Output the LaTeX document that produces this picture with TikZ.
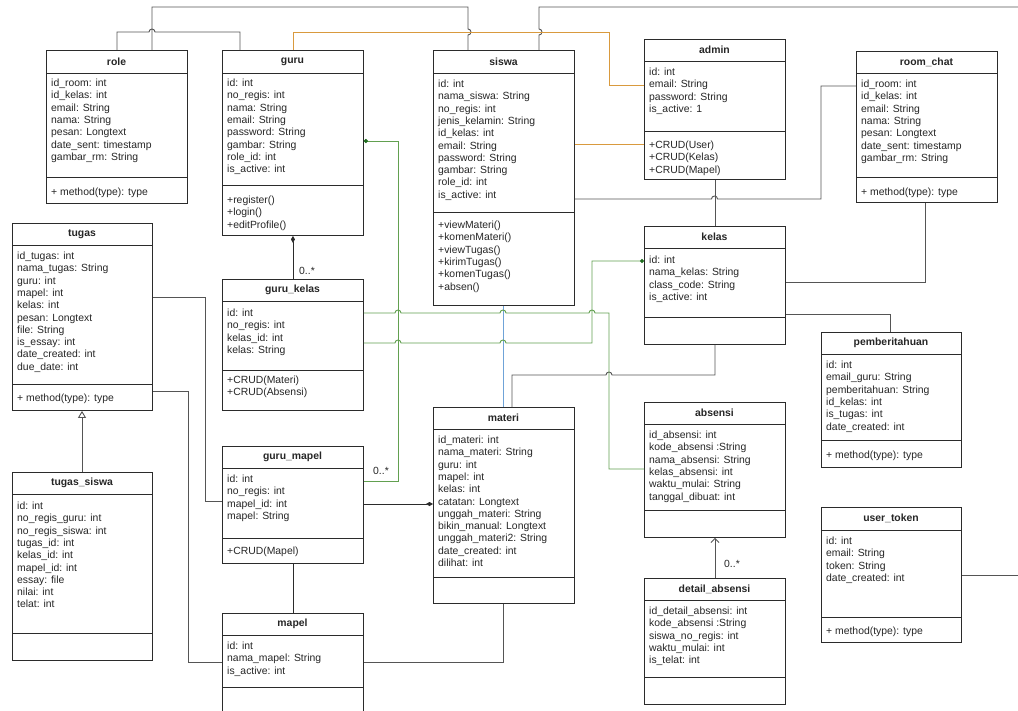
\documentclass[tikz,border=0pt]{standalone}
\usepackage{fontspec}
\setmainfont{Liberation Sans}
\usetikzlibrary{arrows.meta}
\definecolor{boxc}{HTML}{2B2B2B}
\definecolor{lnc}{HTML}{555555}
\definecolor{orng}{HTML}{D99A3E}
\definecolor{grn}{HTML}{62A050}
\definecolor{grnd}{HTML}{1E6B1E}
\definecolor{blu}{HTML}{6FA3D8}
\definecolor{txt}{HTML}{262626}
\tikzset{
  clsbox/.style={draw=boxc, line width=0.9pt, fill=white, inner sep=0pt, anchor=north west},
  sepline/.style={draw=boxc, line width=0.9pt},
  ttl/.style={font=\fontsize{10.4}{12}\selectfont\bfseries, inner sep=0pt, text=txt},
  attr/.style={font=\fontsize{10.4}{12}\selectfont, anchor=west, inner sep=0pt, text height=7pt, text depth=2pt, text=txt},
  mult/.style={font=\fontsize{10.4}{12}\selectfont, inner sep=0pt, text=txt},
  conn/.style={draw=lnc, line width=0.9pt},
  dk/.style={draw=boxc, line width=0.9pt},
  orl/.style={draw=orng, line width=0.9pt},
  grl/.style={draw=grn, line width=0.9pt},
  bll/.style={draw=blu, line width=0.9pt},
}
\newcommand\umlcls[8]{%
  \node[clsbox, minimum width={(#4-#2)*1pt}, minimum height={(#7-#3)*1pt}] (#1) at (#2,#3) {};
  \draw[sepline] (#2,#5) -- (#4,#5) (#2,#6) -- (#4,#6);
  \node[ttl] (#1-t) at ({(#2+#4)/2},{(#3+#5)/2}) {#8};
}
\newcommand\umlrows[4]{%
  \foreach \t [count=\i from 0] in {#4} {\node[attr] (#1-\i) at (#2,{#3+\i*12.3}) {\t};}%
}
\begin{document}
\begin{tikzpicture}[x=1pt,y=-1pt]
\useasboundingbox (0,0) rectangle (1018,710);
\fill[white] (0,0) rectangle (1018,710);
\begin{scope}
\clip (0,0) rectangle (1018,710);
% ---------- classes ----------
\umlcls{role}{46}{50}{187}{73}{177}{203}{role}
\umlrows{rolea}{51}{84}{id\_room: int, id\_kelas: int, email: String, nama: String, pesan: Longtext, date\_sent: timestamp, gambar\_rm: String}
\umlrows{rolem}{51}{193}{+ method(type): type}

\umlcls{guru}{222}{50}{363}{73}{185}{235}{guru}
\umlrows{gurua}{227}{84}{id: int, no\_regis: int, nama: String, email: String, password: String, gambar: String, role\_id: int, is\_active: int}
\umlrows{gurum}{227}{201}{+register(), +login(), +editProfile()}

\umlcls{siswa}{433}{50}{574}{73}{212}{305}{siswa}
\umlrows{siswaa}{438}{85}{id: int, nama\_siswa: String, no\_regis: int, jenis\_kelamin: String, id\_kelas: int, email: String, password: String, gambar: String, role\_id: int, is\_active: int}
\umlrows{siswam}{438}{226}{+viewMateri(), +komenMateri(), +viewTugas(), +kirimTugas(), +komenTugas(), +absen()}

\umlcls{admin}{644}{39}{785}{61}{131}{179}{admin}
\umlrows{admina}{649}{73}{id: int, email: String, password: String, is\_active: 1}
\umlrows{adminm}{649}{146}{+CRUD(User), +CRUD(Kelas), +CRUD(Mapel)}

\umlcls{roomchat}{856}{51}{997}{73}{177}{202}{room\_chat}
\umlrows{roomchata}{861}{85}{id\_room: int, id\_kelas: int, email: String, nama: String, pesan: Longtext, date\_sent: timestamp, gambar\_rm: String}
\umlrows{roomchatm}{861}{193}{+ method(type): type}

\umlcls{kelas}{644}{226}{785}{248}{317}{344}{kelas}
\umlrows{kelasa}{649}{261}{id: int, nama\_kelas: String, class\_code: String, is\_active: int}

\umlcls{pemb}{821}{332}{961}{354}{440}{467}{pemberitahuan}
\umlrows{pemba}{826}{366}{id: int, email\_guru: String, pemberitahuan: String, id\_kelas: int, is\_tugas: int, date\_created: int}
\umlrows{pembm}{826}{456}{+ method(type): type}

\umlcls{tugas}{12}{223}{152}{245}{384}{410}{tugas}
\umlrows{tugasa}{17}{257}{id\_tugas: int, nama\_tugas: String, guru: int, mapel: int, kelas: int, pesan: Longtext, file: String, is\_essay: int, date\_created: int, due\_date: int}
\umlrows{tugasm}{17}{399}{+ method(type): type}

\umlcls{gurukelas}{222}{279}{363}{301}{370}{410}{guru\_kelas}
\umlrows{gurukelasa}{227}{314}{id: int, no\_regis: int, kelas\_id: int, kelas: String}
\umlrows{gurukelasm}{227}{381}{+CRUD(Materi), +CRUD(Absensi)}

\umlcls{gurumapel}{222}{446}{363}{468}{538}{563}{guru\_mapel}
\umlrows{gurumapela}{227}{480}{id: int, no\_regis: int, mapel\_id: int, mapel: String}
\umlrows{gurumapelm}{227}{552}{+CRUD(Mapel)}

\umlcls{mapel}{222}{613}{363}{635}{687}{720}{mapel}
\umlrows{mapela}{227}{647}{id: int, nama\_mapel: String, is\_active: int}

\umlcls{tugassiswa}{12}{472}{152}{494}{633}{660}{tugas\_siswa}
\umlrows{tugassiswaa}{17}{507}{id: int, no\_regis\_guru: int, no\_regis\_siswa: int, tugas\_id: int, kelas\_id: int, mapel\_id: int, essay: file, nilai: int, telat: int}

\umlcls{materi}{433}{407}{574}{429}{577}{603}{materi}
\umlrows{materia}{438}{441}{id\_materi: int, nama\_materi: String, guru: int, mapel: int, kelas: int, catatan: Longtext, unggah\_materi: String, bikin\_manual: Longtext, unggah\_materi2: String, date\_created: int, dilihat: int}

\umlcls{absensi}{644}{402}{785}{424}{510}{537}{absensi}
\umlrows{absensia}{649}{436}{id\_absensi: int, kode\_absensi :String, nama\_absensi: String, kelas\_absensi: int, waktu\_mulai: String, tanggal\_dibuat: int}

\umlcls{detabs}{644}{578}{785}{600}{677}{704}{detail\_absensi}
\umlrows{detabsa}{649}{612}{id\_detail\_absensi: int, kode\_absensi :String, siswa\_no\_regis: int, waktu\_mulai: int, is\_telat: int}

\umlcls{usertoken}{821}{507}{961}{530}{617}{642}{user\_token}
\umlrows{usertokena}{826}{542}{id: int, email: String, token: String, date\_created: int}
\umlrows{usertokenm}{826}{632}{+ method(type): type}

% ---------- free ends ----------
\coordinate (topR) at (1030,7);
\coordinate (utR) at (1030,575);

% ---------- connectors ----------
% role - guru
\draw[conn] ([xshift=71pt]role.north west) -- (117,32) -- (149,32) arc[start angle=180,end angle=360,radius=3] -- (240,32) -- ([xshift=18pt]guru.north west);
% role - siswa
\draw[conn] ([xshift=106pt]role.north west) -- (152,7) -- (468,7) -- (468,29) arc[start angle=-90,end angle=90,radius=3] -- ([xshift=35pt]siswa.north west);
% siswa - off page
\draw[conn] ([xshift=106pt]siswa.north west) -- (539,35) arc[start angle=90,end angle=-90,radius=3] -- (539,7) -- (topR);
% guru - admin (orange)
\draw[orl] (guru.north) -- (guru.north |- 0,32) -- (609,32) -- (609,85) -- (admin.west |- 0,85);
% siswa - admin (orange)
\draw[orl] (siswa.east |- 0,144) -- (admin.west |- 0,144);
% siswa - room_chat
\draw[conn] (siswa.east |- 0,199) -- (711.5,199) arc[start angle=180,end angle=360,radius=3] -- (821,199) -- (821,86) -- (roomchat.west |- 0,86);
% admin - kelas
\draw[conn] (admin.south) -- (kelas.north);
% room_chat - kelas
\draw[conn] (925,0 |- roomchat.south) -- (925,282) -- (kelas.east |- 0,282);
% kelas - pemberitahuan
\draw[conn] (kelas.east |- 0,314) -- (890,314) -- (890,0 |- pemb.north);
% kelas - materi
\draw[conn] (kelas.south) -- (kelas.south |- 0,375) -- (612,375) arc[start angle=0,end angle=-180,radius=3] -- (512,375) -- (512,0 |- materi.north);
% siswa - materi (blue)
\draw[bll] (503,0 |- siswa.south) -- (503,0 |- materi.north);
% guru - guru_mapel (green)
\draw[grl, {Circle[length=4pt,color=grnd]}-] (guru.east |- 0,141) -- (398,141) -- (398,481) -- (gurumapel.east |- 0,481);
% guru_kelas - absensi (green)
\draw[grl] (gurukelas.east |- 0,313) -- (395,313) arc[start angle=180,end angle=360,radius=3] -- (500,313) arc[start angle=180,end angle=360,radius=3] -- (589,313) arc[start angle=180,end angle=360,radius=3] -- (609,313) -- (609,469) -- (absensi.west |- 0,469);
% guru_kelas - kelas (green)
\draw[grl, -{Circle[length=4pt,color=grnd]}] (gurukelas.east |- 0,343) -- (395,343) arc[start angle=180,end angle=360,radius=3] -- (500,343) arc[start angle=180,end angle=360,radius=3] -- (592,343) -- (592,261) -- (kelas.west |- 0,261);
% guru - guru_kelas
\draw[dk, -{Diamond[length=7pt,width=4pt]}] (gurukelas.north) -- (guru.south);
\node[mult] (m1) at (307,271) {0..*};
\node[mult] (m2) at (381,471) {0..*};
% guru_mapel - materi
\draw[dk, -{Diamond[length=7pt,width=4pt]}] (gurumapel.east |- 0,504) -- (materi.west |- 0,504);
% guru_mapel - mapel
\draw[dk] (gurumapel.south) -- (mapel.north);
% tugas - guru_mapel
\draw[conn] (tugas.east |- 0,297) -- (205,297) -- (205,501) -- (gurumapel.west |- 0,501);
% tugas - mapel
\draw[conn] (tugas.east |- 0,391) -- (188,391) -- (188,662) -- (mapel.west |- 0,662);
% materi - mapel
\draw[conn] (503,0 |- materi.south) -- (503,662) -- (mapel.east |- 0,662);
% tugas_siswa - tugas (inheritance)
\draw[conn, -{Triangle[open,length=7pt,width=8pt]}] ([xshift=70pt]tugassiswa.north west) -- ([xshift=70pt]tugas.south west);
% detail_absensi - absensi
\draw[conn, -{Straight Barb[length=4pt,width=8pt]}] (detabs.north) -- (absensi.south);
\node[mult] (m3) at (732,564) {0..*};
% user_token - off page
\draw[conn] (usertoken.east |- 0,575) -- (utR);
\end{scope}
\end{tikzpicture}
\end{document}
